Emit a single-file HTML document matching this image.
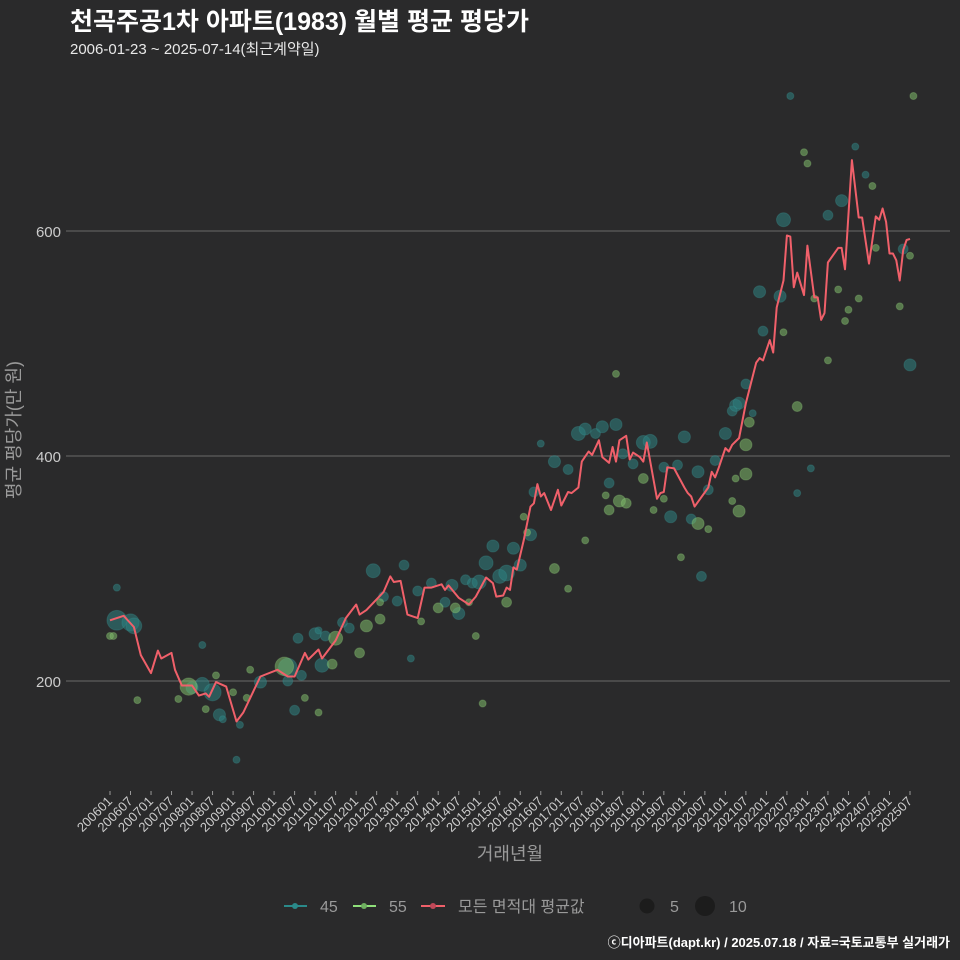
<!DOCTYPE html>
<html><head><meta charset="utf-8">
<style>
body{margin:0;background:#2a2a2b;}
svg{display:block;font-family:"Liberation Sans","Noto Sans CJK KR",sans-serif;}
</style></head>
<body>
<svg id="chart" width="960" height="960" viewBox="0 0 960 960">
<rect width="960" height="960" fill="#2a2a2b"/>
<text x="70" y="30" fill="#ffffff" font-size="25" font-weight="bold">천곡주공1차 아파트(1983) 월별 평균 평당가</text>
<text x="70" y="54" fill="#e8e8e8" font-size="15">2006-01-23 ~ 2025-07-14(최근계약일)</text>
<g id="grid"></g>
<g id="yticks"></g>
<g id="bubbles"></g>
<g id="line"></g>
<g id="xticks"></g>
<text x="510" y="860" fill="#9a9a9a" font-size="18" text-anchor="middle">거래년월</text>
<text transform="translate(20,430) rotate(-90)" fill="#9a9a9a" font-size="18" text-anchor="middle">평균 평당가(만 원)</text>
<g>
  <g>
    <line x1="284" y1="906" x2="307" y2="906" stroke="#2a8a8a" stroke-width="2"/>
    <circle cx="295" cy="906" r="3" fill="#2a8a8a"/>
    <text x="320" y="912" fill="#9a9a9a" font-size="16">45</text>
  </g>
  <g>
    <line x1="353" y1="906" x2="376" y2="906" stroke="#8fe07a" stroke-width="2"/>
    <circle cx="364" cy="906" r="3" fill="#6fb060"/>
    <text x="389" y="912" fill="#9a9a9a" font-size="16">55</text>
  </g>
  <g>
    <line x1="421" y1="906" x2="445" y2="906" stroke="#f0606a" stroke-width="2"/>
    <circle cx="433" cy="906" r="3" fill="#c04858"/>
    <text x="458" y="912" fill="#9a9a9a" font-size="16">모든 면적대 평균값</text>
  </g>
  <g>
    <circle cx="647" cy="906" r="7.5" fill="#1c1c1c"/>
    <text x="670" y="912" fill="#9a9a9a" font-size="16">5</text>
  </g>
  <g>
    <circle cx="705" cy="906" r="10" fill="#1c1c1c"/>
    <text x="729" y="912" fill="#9a9a9a" font-size="16">10</text>
  </g>
</g>
<text x="950" y="947" fill="#ffffff" font-size="13" font-weight="bold" text-anchor="end">ⓒ디아파트(dapt.kr) / 2025.07.18 / 자료=국토교통부 실거래가</text>
</svg>
<script>
const yTicks = [200, 400, 600];
const lineMonths = [0,4,7,9,12,14,15,18,19,21,24,26,28,29,31,34,37,39,44,49,52,54,57,58,61,62,66,69,72,73,75,80,82,83,85,87,89,90,92,94,97,98,99,102,105,107,110,112,113,115,116,117,118,119,121,123,124,125,126,127,129,131,132,134,135,137,138,140,141,143,144,146,147,148,149,151,152,153,155,156,157,160,161,162,163,165,168,169,170,171,175,176,177,178,180,181,182,184,186,189,190,191,193,194,195,197,198,199,200,201,203,204,206,207,208,209,210,213,214,215,217,219,220,222,224,225,226,227,228,229,230,231,232,233,234];
const lineValues = [254,258,248,223,207,227,220,225,210,196,196,187,189,186,199,195,164,172,204,210,204,204,225,219,228,220,236,256,268,259,263,279,293,288,289,259,257,256,283,283,286,281,285,274,268,275,292,287,275,276,283,281,301,299,325,355,358,375,364,367,352,370,356,368,367,372,395,404,401,414,399,394,408,395,414,418,397,403,399,395,412,362,367,368,390,389,372,367,364,355,372,386,381,389,407,404,410,416,447,483,487,485,503,492,532,556,596,595,550,563,543,587,541,541,521,527,572,585,585,566,663,612,612,571,613,610,620,608,580,580,574,556,583,592,593];
const t45Months = [2,6,7,2,27,27,24,30,32,33,38,37,44,52,52,54,56,55,60,63,61,62,68,70,77,80,84,86,88,90,94,98,100,102,104,106,108,110,112,114,116,118,120,123,124,126,130,134,137,139,142,144,146,148,150,153,156,158,162,164,166,168,170,172,173,175,177,180,182,183,184,190,191,188,186,196,197,199,201,205,210,214,218,221,232,234];
const t45Values = [254,252,249,283,232,197,194,190,170,166,161,130,199,212,200,174,205,238,242,240,245,214,252,247,298,275,271,303,220,280,287,270,285,260,290,287,288,305,320,293,296,318,303,330,368,411,395,388,420,424,420,426,376,428,402,393,412,413,390,346,392,417,344,386,293,370,396,420,440,445,447,546,511,438,464,542,610,720,367,389,614,627,675,650,584,481];
const t45Counts = [8,6,5,1,1,4,3,6,3,1,1,1,3,7,2,2,2,2,3,2,1,4,2,2,4,2,2,2,1,2,2,2,3,3,2,2,4,4,3,4,5,3,3,3,2,1,3,2,4,3,2,3,2,3,2,2,4,4,2,3,2,3,2,3,2,2,2,3,2,3,3,3,2,1,2,3,4,1,1,1,2,3,1,1,2,3];
const g55Months = [0,1,8,20,23,28,31,41,36,40,51,57,61,65,66,73,75,79,79,91,96,101,105,107,109,116,121,122,130,134,139,145,146,148,149,151,156,159,162,167,175,172,182,183,184,186,187,186,197,201,203,204,206,210,213,215,216,219,223,224,231,234,235];
const g55Values = [240,240,183,184,195,175,205,210,190,185,213,185,172,215,238,225,249,255,270,253,265,265,270,240,180,270,346,332,300,282,325,365,352,473,360,358,380,352,362,310,335,340,360,380,351,410,430,384,510,444,670,660,540,485,548,520,530,540,640,585,533,578,720];
const g55Counts = [1,1,1,1,6,1,1,1,1,1,7,1,1,2,4,2,3,2,1,1,2,2,1,1,1,2,1,1,2,1,1,1,2,1,3,2,2,1,1,1,1,3,1,1,3,3,2,3,1,2,1,1,1,1,1,1,1,1,1,1,1,1,1];

const NS = "http://www.w3.org/2000/svg";
const xScale = m => 110 + m * (800 / 234);
const yScale = v => 681 - (v - 200) * 1.125;
const rScale = c => 3.5 * Math.sqrt(c);
function mk(tag, attrs, parent) {
  const el = document.createElementNS(NS, tag);
  for (const k in attrs) el.setAttribute(k, attrs[k]);
  parent.appendChild(el);
  return el;
}
const grid = document.getElementById('grid');
const yt = document.getElementById('yticks');
yTicks.forEach(v => {
  const l = mk('line', {x1: 66, x2: 950, y1: yScale(v), y2: yScale(v), stroke: '#6a6a6a', 'stroke-width': 1}, grid);
  
  
  const t = mk('text', {x: 61, y: yScale(v) + 6, fill: '#cccccc', 'font-size': 15, 'text-anchor': 'end'}, yt);
  t.textContent = v;
  
  
});
const xt = document.getElementById('xticks');
for (let i = 0; i <= 39; i++) {
  const m = i * 6;
  const yr = 2006 + Math.floor(m / 12);
  const mo = (m % 12) + 1;
  const label = '' + yr + (mo < 10 ? '0' : '') + mo;
  const x = xScale(m);
  const tk = mk('line', {x1: x, x2: x, y1: 791, y2: 795, stroke: '#999', 'stroke-width': 1}, xt);
  
  
  const t = mk('text', {x: x + 3, y: 802, fill: '#cccccc', 'font-size': 13, 'text-anchor': 'end', transform: `rotate(-45 ${x + 3} 802)`}, xt);
  t.textContent = label;
  
  
}
const bub = document.getElementById('bubbles');
t45Months.forEach((m, i) => {
  const c = mk('circle', {cx: xScale(m), cy: yScale(t45Values[i]), r: rScale(t45Counts[i]), fill: 'rgba(45,130,130,0.55)', stroke: 'rgba(60,150,150,0.3)'}, bub);
  
  
});
g55Months.forEach((m, i) => {
  const c = mk('circle', {cx: xScale(m), cy: yScale(g55Values[i]), r: rScale(g55Counts[i]), fill: 'rgba(125,185,105,0.55)', stroke: 'rgba(150,210,125,0.3)'}, bub);
  
  
});
const pts = lineMonths.map((m, i) => xScale(m).toFixed(1) + ',' + yScale(lineValues[i]).toFixed(1)).join(' ');
const pl = mk('polyline', {points: pts, fill: 'none', stroke: '#f0606a', 'stroke-width': 2, 'stroke-linejoin': 'round'}, document.getElementById('line'));


</script>
</body></html>
